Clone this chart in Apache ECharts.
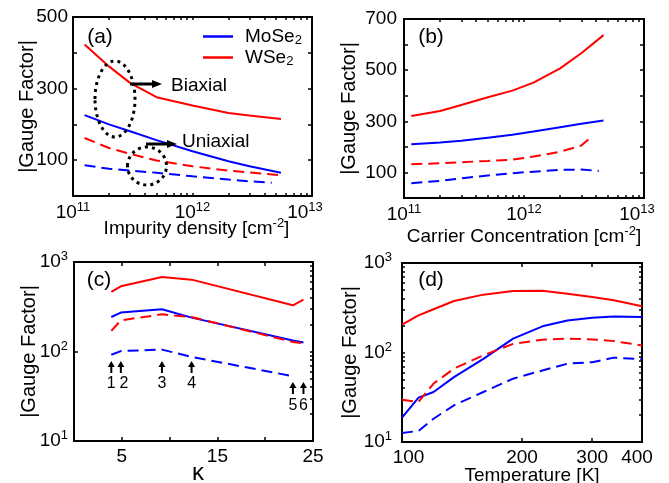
<!DOCTYPE html>
<html><head><meta charset="utf-8">
<script src="https://cdn.jsdelivr.net/npm/echarts@6/dist/echarts.min.js"></script>
<style>html,body{margin:0;padding:0;background:#fff}#c{width:669px;height:483px}</style>
</head><body><div id="c"></div>
<script>
// ---------- DATA ----------
// Panel (a): impurity density
const aX      = [1.25e11, 2e11, 3e11, 5e11, 1e12, 2e12, 3e12, 5.5e12];
const aMoBi   = [226, 200, 181, 156, 125, 97, 83, 65];
const aWBi    = [423, 362, 316, 276, 253, 232, 225, 215];
const aWUni   = [162, 134, 118, 99, 83, 71, 66, 58];
const aMoUniX = [1.25e11, 2e11, 3e11, 5e11, 1e12, 2e12, 3e12, 4.6e12];
const aMoUni  = [86, 76, 71, 65, 55, 46, 41, 37];
// Panel (b): carrier concentration
const bX      = [1.15e11, 2e11, 3e11, 5e11, 8e11, 1.2e12, 2e12, 3e12, 4.6e12];
const bWBi    = [321, 340, 364, 394, 420, 451, 507, 566, 637];
const bMoBi   = [210, 217, 224, 236, 247, 260, 277, 290, 303];
const bWUniX  = [1.15e11, 2e11, 3e11, 5e11, 8e11, 1.2e12, 2e12, 3e12, 3.5e12];
const bWUni   = [132, 136, 140, 145, 150, 162, 181, 205, 232];
const bMoUniX = [1.15e11, 2e11, 3e11, 5e11, 8e11, 1.2e12, 2e12, 3e12, 4.2e12];
const bMoUni  = [58, 67, 77, 88, 97, 103, 110, 111, 106];
// Panel (c): dielectric constant kappa
const cK      = [3.9, 4.9, 9.2, 12.3, 22.9, 24];
const cWBi    = [465, 535, 680, 635, 328, 379];
const cMoBi   = [243, 272, 296, 239, 133, 126];
const cWUni   = [170, 223, 260, 243, 128, 123];
const cMoUniK = [3.9, 4.9, 9.2, 12.3, 22.9];
const cMoUni  = [92, 101, 105, 87, 53];
const cArrowLabels = ['1', '2', '3', '4', '5', '6'];
// Panel (d): temperature
const dT      = [100, 110, 120, 135, 160, 190, 225, 260, 300, 340, 400];
const dWBi    = [205, 260, 304, 376, 443, 487, 491, 454, 417, 383, 328];
const dMoBi   = [18.7, 31.3, 36.2, 53, 85, 143, 196, 228, 245, 253, 249];
const dWUni   = [29.7, 28, 45, 66, 93, 125, 139, 143, 140, 134, 120];
const dMoUni  = [12.6, 13.3, 18.2, 25.7, 36.2, 51, 63, 75, 78, 87.6, 84];
// Tick labels
const aYLabels = [100, 300, 500];
const bYLabels = [100, 300, 500, 700];
const abXLabels = [1e11, 1e12, 1e13];
const cXLabels = [5, 15, 25];
const cdYLabels = [10, 100, 1000];
const dXLabels = [100, 200, 300, 400];

// ---------- STYLE ----------
const FONT = '"Liberation Sans", Arial, Helvetica, sans-serif';
const BLUE = '#0000ff', RED = '#ff0000';
const DASH = [11, 6];
const FS = 19;
const RICH = {
  b:  {fontFamily: FONT, fontSize: FS, lineHeight: 24, color: '#000'},
  bl: {fontFamily: FONT, fontSize: FS, lineHeight: 24, color: '#000', padding: [0, 0, 0, 13]},
  br: {fontFamily: FONT, fontSize: FS, lineHeight: 24, color: '#000', padding: [0, 10, 0, 0]},
  s:  {fontFamily: FONT, fontSize: 13, lineHeight: 14, verticalAlign: 'top', color: '#000'},
  sr: {fontFamily: FONT, fontSize: 13, lineHeight: 14, verticalAlign: 'top', color: '#000', padding: [0, 14, 0, 0]}
};
const pow10 = v => '{b|10}{s|' + Math.round(Math.log10(v)) + '}';
// last decade label sits slightly inside the box, as in the original
const pow10x = v => {
  const e = Math.round(Math.log10(v));
  return '{b|10}{' + (e === 13 ? 'sr' : 's') + '|' + e + '}';
};
const plain = v => '{b|' + Math.round(v) + '}';
const plainT = v => {
  const r = Math.round(v);
  const st = r === 100 ? 'bl' : (r === 400 ? 'br' : 'b');
  return '{' + st + '|' + r + '}';
};

function pairs(xs, ys) { return xs.map((x, i) => [x, ys[i]]); }
function logMinors(lo, hi) {
  const out = [];
  for (let d = lo; d < hi; d *= 10) for (let m = 1; m < 10; m++) out.push(m * d);
  out.push(hi);
  return out;
}

const gridBase = {containLabel: false, outerBoundsMode: 'none', show: false};
const grids = [
  Object.assign({left: 73, top: 17, width: 239, height: 179}, gridBase),
  Object.assign({left: 404, top: 19, width: 240, height: 179}, gridBase),
  Object.assign({left: 74, top: 262, width: 239, height: 179}, gridBase),
  Object.assign({left: 402, top: 263, width: 240, height: 179}, gridBase)
];

function ax(o) {
  const a = {
    gridIndex: o.g, position: o.pos, type: o.type, min: o.min, max: o.max,
    axisLine: {show: true, onZero: false, lineStyle: {color: '#000', width: 2}},
    axisTick: {show: true, inside: true, length: o.tickLen || 4,
      lineStyle: {color: '#000', width: 1.5}},
    axisLabel: {show: false},
    splitLine: {show: false},
    minorTick: {show: false},
    minorSplitLine: {show: false}
  };
  if (o.ticks) a.axisTick.customValues = o.ticks;
  if (o.interval) a.interval = o.interval;
  if (o.type === 'log') a.logBase = 10;
  if (o.labels) {
    a.axisLabel = {show: true, customValues: o.labels, formatter: o.fmt,
      margin: o.margin || 5, rich: RICH, fontFamily: FONT, fontSize: FS, color: '#000'};
  }
  if (o.name) {
    const nfs = o.nameSize || FS;
    a.name = o.name;
    a.nameLocation = 'middle';
    a.nameGap = o.nameGap;
    a.nameMoveOverlap = false;
    a.nameTextStyle = {fontFamily: FONT, fontSize: nfs, color: '#000', lineHeight: 24,
      padding: o.namePad || 0,
      rich: {s: {fontFamily: FONT, fontSize: 13, lineHeight: 14, verticalAlign: 'top', color: '#000'}}};
  }
  return a;
}

const abTicks = logMinors(1e11, 1e13);
const cdYTicks = logMinors(10, 1000);
const xAxes = [
  ax({g: 0, pos: 'bottom', type: 'log', min: 1e11, max: 1e13, ticks: abTicks, tickLen: 3,
      labels: abXLabels, fmt: pow10x, margin: 5, name: 'Impurity density [cm{s|-2}]', nameGap: 21,
      namePad: [0, 0, 0, 8]}),
  ax({g: 0, pos: 'top', type: 'log', min: 1e11, max: 1e13, ticks: abTicks, tickLen: 3}),
  ax({g: 1, pos: 'bottom', type: 'log', min: 1e11, max: 1e13, ticks: abTicks, tickLen: 3,
      labels: abXLabels, fmt: pow10x, margin: 5, name: 'Carrier Concentration [cm{s|-2}]', nameGap: 27}),
  ax({g: 1, pos: 'top', type: 'log', min: 1e11, max: 1e13, ticks: abTicks, tickLen: 3}),
  ax({g: 2, pos: 'bottom', type: 'value', min: 0, max: 25, interval: 5,
      labels: cXLabels, fmt: plain, margin: 4, name: 'κ', nameGap: 20, nameSize: 24,
      namePad: [0, 0, 0, 9]}),
  ax({g: 2, pos: 'top', type: 'value', min: 0, max: 25, interval: 5}),
  ax({g: 3, pos: 'bottom', type: 'log', min: 100, max: 400, ticks: [200, 300],
      labels: dXLabels, fmt: plainT, margin: 4, name: 'Temperature [K]', nameGap: 22,
      namePad: [0, 0, 0, 20]}),
  ax({g: 3, pos: 'top', type: 'log', min: 100, max: 400, ticks: [200, 300]})
];
const yAxes = [
  ax({g: 0, pos: 'left', type: 'value', min: 0, max: 500, interval: 100,
      labels: aYLabels, fmt: plain, name: '|Gauge Factor|', nameGap: 34, nameSize: 20}),
  ax({g: 0, pos: 'right', type: 'value', min: 0, max: 500, interval: 100}),
  ax({g: 1, pos: 'left', type: 'value', min: 0, max: 700, interval: 100,
      labels: bYLabels, fmt: plain, margin: 7, name: '|Gauge Factor|', nameGap: 43, nameSize: 20}),
  ax({g: 1, pos: 'right', type: 'value', min: 0, max: 700, interval: 100}),
  ax({g: 2, pos: 'left', type: 'log', min: 10, max: 1000, ticks: cdYLabels,
      labels: cdYLabels, fmt: pow10, margin: 6, name: '|Gauge Factor|', nameGap: 33, nameSize: 20}),
  ax({g: 2, pos: 'right', type: 'log', min: 10, max: 1000, ticks: cdYTicks, tickLen: 3}),
  ax({g: 3, pos: 'left', type: 'log', min: 10, max: 1000, ticks: cdYTicks, tickLen: 3,
      labels: cdYLabels, fmt: pow10, margin: 10, name: '|Gauge Factor|', nameGap: 40, nameSize: 20}),
  ax({g: 3, pos: 'right', type: 'log', min: 10, max: 1000, ticks: cdYTicks, tickLen: 3})
];

function ser(name, xi, yi, data, color, dashed) {
  return {type: 'line', name: name, xAxisIndex: xi, yAxisIndex: yi, data: data,
    symbol: 'none', showSymbol: false, smooth: false, silent: true,
    lineStyle: {color: color, width: 2, type: dashed ? DASH : 'solid'},
    itemStyle: {color: color}};
}

const series = [
  ser('MoSe2', 0, 0, pairs(aX, aMoBi), BLUE, false),
  ser('WSe2', 0, 0, pairs(aX, aWBi), RED, false),
  ser('WSe2 uni a', 0, 0, pairs(aX, aWUni), RED, true),
  ser('MoSe2 uni a', 0, 0, pairs(aMoUniX, aMoUni), BLUE, true),
  ser('WSe2 b', 2, 2, pairs(bX, bWBi), RED, false),
  ser('MoSe2 b', 2, 2, pairs(bX, bMoBi), BLUE, false),
  ser('WSe2 uni b', 2, 2, pairs(bWUniX, bWUni), RED, true),
  ser('MoSe2 uni b', 2, 2, pairs(bMoUniX, bMoUni), BLUE, true),
  ser('WSe2 c', 4, 4, pairs(cK, cWBi), RED, false),
  ser('MoSe2 c', 4, 4, pairs(cK, cMoBi), BLUE, false),
  ser('WSe2 uni c', 4, 4, pairs(cK, cWUni), RED, true),
  ser('MoSe2 uni c', 4, 4, pairs(cMoUniK, cMoUni), BLUE, true),
  ser('WSe2 d', 6, 6, pairs(dT, dWBi), RED, false),
  ser('MoSe2 d', 6, 6, pairs(dT, dMoBi), BLUE, false),
  ser('WSe2 uni d', 6, 6, pairs(dT, dWUni), RED, true),
  ser('MoSe2 uni d', 6, 6, pairs(dT, dMoUni), BLUE, true)
];

const chart = echarts.init(document.getElementById('c'), null, {renderer: 'canvas'});
chart.setOption({
  animation: false,
  backgroundColor: '#fff',
  grid: grids,
  xAxis: xAxes,
  yAxis: yAxes,
  legend: {
    show: true, left: 203, top: 26, orient: 'vertical', padding: 0,
    icon: 'rect', itemWidth: 30, itemHeight: 2.5, itemGap: 0,
    data: ['MoSe2', 'WSe2'],
    formatter: n => (n === 'MoSe2' ? 'MoSe{s|2}' : 'WSe{s|2}'),
    textStyle: {fontFamily: FONT, fontSize: FS, color: '#000', lineHeight: 21, padding: [0, 0, 0, 7],
      rich: {s: {fontFamily: FONT, fontSize: 13, lineHeight: 13, verticalAlign: 'bottom', color: '#000'}}}
  },
  series: series
});

// ---------- ANNOTATIONS ----------
function txt(t, x, y, align, size) {
  return {type: 'text', silent: true, z: 100,
    style: {text: t, x: x, y: y, align: align || 'center', verticalAlign: 'middle',
      font: (size || FS) + 'px ' + FONT, fill: '#000'}};
}
function hArrow(x0, x1, y) {
  return [
    {type: 'line', silent: true, z: 100, shape: {x1: x0, y1: y, x2: x1 - 9, y2: y},
      style: {stroke: '#000', lineWidth: 3}},
    {type: 'polygon', silent: true, z: 100, shape: {points: [[x1 - 10, y - 4], [x1, y], [x1 - 10, y + 4]]},
      style: {fill: '#000'}}
  ];
}
function vArrow(x, y0, y1) {
  return [
    {type: 'line', silent: true, z: 100, shape: {x1: x, y1: y0, x2: x, y2: y1 + 5},
      style: {stroke: '#000', lineWidth: 2}},
    {type: 'polygon', silent: true, z: 100, shape: {points: [[x - 3.5, y1 + 6], [x, y1], [x + 3.5, y1 + 6]]},
      style: {fill: '#000'}}
  ];
}
const dotted = {stroke: '#000', fill: null, lineWidth: 3, lineDash: [3, 4]};
let g = [
  txt('(a)', 100, 37, 'center', 21), txt('(b)', 431, 37, 'center', 21),
  txt('(c)', 99, 280, 'center', 21), txt('(d)', 431, 280, 'center', 21),
  {type: 'ellipse', silent: true, z: 100, shape: {cx: 115, cy: 99, rx: 20, ry: 38}, style: dotted},
  {type: 'ellipse', silent: true, z: 100, shape: {cx: 147, cy: 166, rx: 19.5, ry: 19}, style: dotted},
  txt('Biaxial', 171, 86, 'left'), txt('Uniaxial', 182, 142, 'left')
];
g = g.concat(hArrow(130, 162, 84), hArrow(146, 177, 144));
cK.forEach((k, i) => {
  const px = chart.convertToPixel({xAxisIndex: 4}, k);
  const low = i >= 4;
  const tip = low ? 382 : 361, base = low ? 394 : 373, ly = low ? 406 : 384;
  g = g.concat(vArrow(px, base, tip));
  g.push(txt(cArrowLabels[i], px + (i === 1 ? 3 : 0), ly, 'center', 16));
});
chart.setOption({graphic: g});
</script>
</body></html>
